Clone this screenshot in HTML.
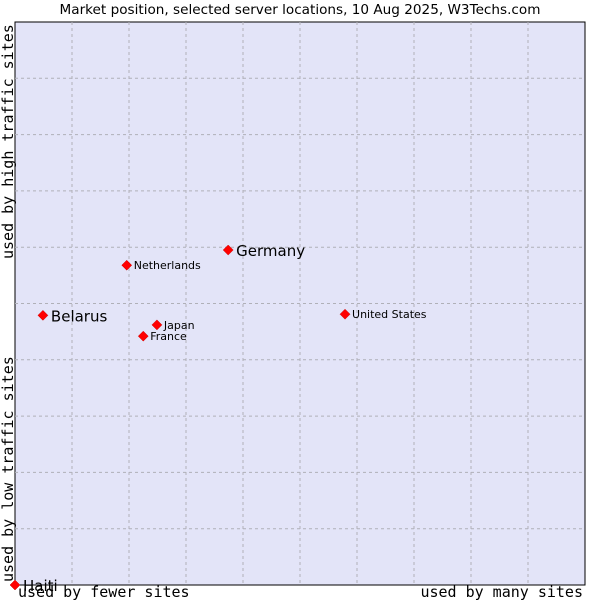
<!DOCTYPE html>
<html><head><meta charset="utf-8"><style>
body{margin:0;background:#fff;}
svg{display:block;font-family:"DejaVu Sans","Liberation Sans",sans-serif;}
.mono{font-family:"DejaVu Sans Mono","Liberation Mono",monospace;}
</style></head><body>
<svg id="chart" width="600" height="600">
<rect x="0" y="0" width="600" height="600" fill="#fff"/>
<text x="300" y="14" text-anchor="middle" font-size="13.6" fill="#000">Market position, selected server locations, 10 Aug 2025, W3Techs.com</text>
<rect x="15" y="22" width="570" height="563" fill="#e3e4f8" stroke="#000" stroke-width="1"/>
<g id="grid"></g>
<g id="points"></g>
<text class="mono" x="18" y="597" font-size="15">used by fewer sites</text>
<text class="mono" x="583" y="597" font-size="15" text-anchor="end">used by many sites</text>
<text class="mono" transform="translate(13,582) rotate(-90)" font-size="15">used by low traffic sites</text>
<text class="mono" transform="translate(13,259) rotate(-90)" font-size="15">used by high traffic sites</text>
</svg>
<script>
const names = ["Germany","Netherlands","Belarus","Japan","France","United States","Haiti"];
const xVals = [37.4,19.6,4.9,24.9,22.5,57.9,0];
const yVals = [59.5,56.8,47.9,46.2,44.2,48.1,0];
const bigLabel = [true,false,true,false,false,false,true];
const NS="http://www.w3.org/2000/svg";
const L=15,R=585,T=22,B=585;
function sx(v){return L+v/100*(R-L);}
function sy(v){return B-v/100*(B-T);}
const grid=document.getElementById('grid');
for(let i=1;i<10;i++){
  const v=document.createElementNS(NS,'line');
  v.setAttribute('x1',sx(i*10));v.setAttribute('x2',sx(i*10));v.setAttribute('y1',T);v.setAttribute('y2',B);
  v.setAttribute('stroke','#b0b0b8');v.setAttribute('stroke-dasharray','3,3');
  
  
  grid.appendChild(v);
  const h=document.createElementNS(NS,'line');
  h.setAttribute('y1',sy(i*10));h.setAttribute('y2',sy(i*10));h.setAttribute('x1',L);h.setAttribute('x2',R);
  h.setAttribute('stroke','#b0b0b8');h.setAttribute('stroke-dasharray','3,3');
  
  
  grid.appendChild(h);
}
const pts=document.getElementById('points');
names.forEach((n,i)=>{
  const x=sx(xVals[i]),y=sy(yVals[i]);
  const d=document.createElementNS(NS,'path');
  d.setAttribute('d',`M${x-5},${y} L${x},${y-5} L${x+5},${y} L${x},${y+5}Z`);
  d.setAttribute('fill','#f00');d.setAttribute('stroke','#c00');d.setAttribute('stroke-width','0.5');
  
  
  pts.appendChild(d);
  const t=document.createElementNS(NS,'text');
  t.setAttribute('x',x+(bigLabel[i]?8:7));
  t.setAttribute('y',y+(bigLabel[i]?6:4));
  t.setAttribute('font-size',bigLabel[i]?'15':'11');
  t.textContent=n;
  
  
  pts.appendChild(t);
});
</script>
</body></html>
